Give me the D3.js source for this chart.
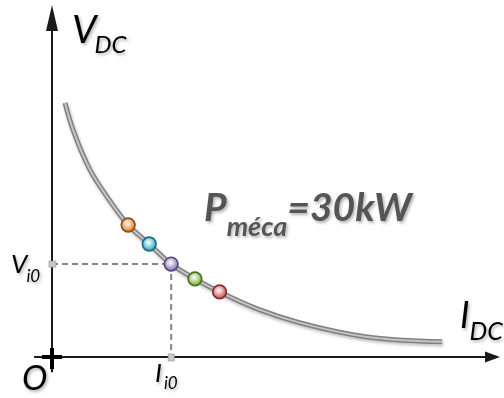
<!DOCTYPE html>
<html><head><meta charset="utf-8">
<script src="https://cdn.jsdelivr.net/npm/d3@7"></script>
<style>
html,body{margin:0;padding:0;background:#fff;}
svg{display:block;}
text{font-family:Lato,"Open Sans",sans-serif;}
</style></head>
<body>
<script>
// Data (I_DC, V_DC in arbitrary units)
const curveI = [2.9, 4.7, 8.5, 12.3, 17.0, 21.7, 26.6, 31.9, 37.4, 46.4, 55.4, 70.3, 87.1];
const curveV = [72.2, 64.5, 53.1, 45.5, 37.5, 32.1, 26.4, 22.2, 18.5, 13.4, 9.7, 5.7, 4.3];
const dotI = [17.0, 21.7, 26.6, 31.9, 37.4];
const dotV = [37.5, 32.1, 26.4, 22.2, 18.5];
const dotColors = ["#e07a1c", "#2aa6c8", "#8470b4", "#78ad38", "#c84a50"];
const opI = 26.6, opV = 26.4;
const titleMain = "P", titleSub = "méca", titleRest = "=30kW";

const W = 504, H = 398;
const svg = d3.select("body").append("svg").attr("width", W).attr("height", H);
const x = d3.scaleLinear().domain([0, 100]).range([52, 500]);
const y = d3.scaleLinear().domain([0, 100]).range([357, 5]);

const defs = svg.append("defs");
const sh = defs.append("filter").attr("id", "tshadow").attr("x", "-40%").attr("y", "-40%").attr("width", "180%").attr("height", "180%");
sh.append("feDropShadow").attr("dx", 1.5).attr("dy", 2).attr("stdDeviation", 1.6).attr("flood-color", "#000").attr("flood-opacity", 0.3);
const cs = defs.append("filter").attr("id", "cshadow").attr("x", "-10%").attr("y", "-10%").attr("width", "120%").attr("height", "130%");
cs.append("feDropShadow").attr("dx", 1).attr("dy", 2).attr("stdDeviation", 1.5).attr("flood-color", "#000").attr("flood-opacity", 0.25);

dotColors.forEach((c, i) => {
  const g = defs.append("radialGradient").attr("id", "dg" + i).attr("cx", "45%").attr("cy", "40%").attr("r", "60%");
  g.append("stop").attr("offset", "0%").attr("stop-color", "#ffffff");
  g.append("stop").attr("offset", "45%").attr("stop-color", d3.interpolateRgb(c, "#fff")(0.55));
  g.append("stop").attr("offset", "100%").attr("stop-color", c);
});

// Dashed guide lines
svg.append("line").attr("x1", x(0)).attr("y1", y(opV)).attr("x2", x(opI)).attr("y2", y(opV))
  .attr("stroke", "#858585").attr("stroke-width", 2).attr("stroke-dasharray", "6,4");
svg.append("line").attr("x1", x(opI)).attr("y1", y(opV)).attr("x2", x(opI)).attr("y2", y(0))
  .attr("stroke", "#858585").attr("stroke-width", 2).attr("stroke-dasharray", "6,4");

// Axes
const axisColor = "#1a1a1a";
svg.append("line").attr("x1", x(-4)).attr("y1", y(0)).attr("x2", x(97)).attr("y2", y(0))
  .attr("stroke", axisColor).attr("stroke-width", 2);
svg.append("line").attr("x1", x(0)).attr("y1", y(-4.3)).attr("x2", x(0)).attr("y2", y(93))
  .attr("stroke", axisColor).attr("stroke-width", 2);
const xt = x(100), yt = y(0);
svg.append("path").attr("d", `M${xt},${yt} L${xt-15},${yt-5.5} L${xt-15},${yt+5.5} Z`).attr("fill", axisColor);
const ax = x(0), ay = y(100);
svg.append("path").attr("d", `M${ax},${ay} L${ax-6},${ay+26} L${ax+6},${ay+26} Z`).attr("fill", axisColor);
// origin cross
svg.append("line").attr("x1", x(0) - 10).attr("y1", y(0)).attr("x2", x(0) + 10).attr("y2", y(0)).attr("stroke", "#000").attr("stroke-width", 4);
svg.append("line").attr("x1", x(0)).attr("y1", y(0) - 9).attr("x2", x(0)).attr("y2", y(0) + 12).attr("stroke", "#000").attr("stroke-width", 4);

// tick markers
svg.append("rect").attr("x", x(0) - 3).attr("y", y(opV) - 3).attr("width", 7).attr("height", 6).attr("fill", "#c8c8c8").attr("stroke", "#999").attr("stroke-width", 0.7);
svg.append("rect").attr("x", x(opI) - 3).attr("y", y(0) - 3).attr("width", 6).attr("height", 7).attr("fill", "#c8c8c8").attr("stroke", "#999").attr("stroke-width", 0.7);

// Curve
const pts = curveI.map((d, i) => [d, curveV[i]]);
const line = d3.line().x(d => x(d[0])).y(d => y(d[1])).curve(d3.curveCatmullRom.alpha(0.5));
const cg = svg.append("g").attr("filter", "url(#cshadow)");
cg.append("path").attr("d", line(pts)).attr("fill", "none").attr("stroke", "#808080").attr("stroke-width", 5).attr("stroke-linecap", "butt");
cg.append("path").attr("d", line(pts)).attr("fill", "none").attr("stroke", "#c4c4c4").attr("stroke-width", 2).attr("stroke-linecap", "butt");

// Dots
svg.selectAll("circle.dot").data(dotI).enter().append("circle").attr("class", "dot")
  .attr("cx", d => x(d)).attr("cy", (d, i) => y(dotV[i])).attr("r", 6.8)
  .attr("fill", (d, i) => `url(#dg${i})`)
  .attr("stroke", (d, i) => d3.color(dotColors[i]).darker(1.2)).attr("stroke-width", 1.7);

// Labels
function label(tx, ty, main, sub, size, subSize, opts = {}) {
  const t = svg.append("text").attr("x", tx).attr("y", ty).attr("filter", "url(#tshadow)")
    .attr("font-style", "italic").attr("font-weight", opts.weight || "normal")
    .attr("fill", opts.fill || "#000").attr("font-size", size);
  t.append("tspan").text(main);
  if (sub) t.append("tspan").attr("font-size", subSize).attr("dy", opts.dy || size * 0.3).attr("dx", opts.dx || 0).text(sub);
  if (opts.rest) t.append("tspan").attr("font-size", size).attr("dy", -(opts.dy || size * 0.3)).text(opts.rest);
  return t;
}
label(72, 43, "V", "DC", 39, 24, {dy: 10, dx: -2});
label(460, 328, "I", "DC", 36, 25, {dy: 12, dx: 0});
label(11, 273, "V", "i0", 26, 17, {dy: 9, dx: -1});
label(155, 382, "I", "i0", 26, 17, {dy: 7, dx: 2});
label(22, 390, "O", null, 34, 0);
label(204, 221, titleMain, titleSub, 39, 27, {weight: "bold", fill: "#555", dy: 15, dx: 0, rest: titleRest});
</script>
</body></html>
